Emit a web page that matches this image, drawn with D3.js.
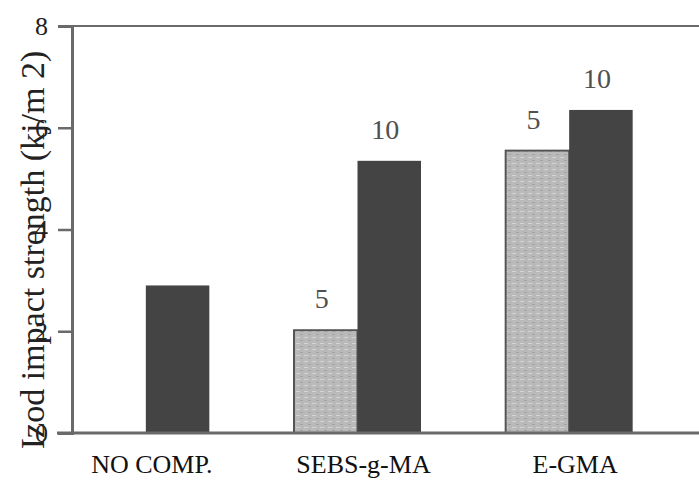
<!DOCTYPE html>
<html>
<head>
<meta charset="utf-8">
<script src="https://cdn.jsdelivr.net/npm/d3@7"></script>
<style>
  body { margin: 0; background: #fff; }
  svg { display: block; }
</style>
</head>
<body>
<div class="chart"></div>
<script>
// data
var categories = ["NO COMP.", "SEBS-g-MA", "E-GMA"];
var loadings = ["5", "10"];
// null = no bar for that loading
var values5 = [null, 2.02, 5.55];
var values10 = [2.9, 5.35, 6.35];
var yTicks = [0, 2, 4, 6, 8];
var yTitle = "Izod impact strength (kj/m 2)";

var width = 699, height = 485;
var yBottom = 433, yTop = 26, axisX = 72;

var svg = d3.select("div.chart").append("svg")
  .attr("width", width)
  .attr("height", height);

// light bar texture
var defs = svg.append("defs");
var pat = defs.append("pattern")
  .attr("id", "grain")
  .attr("patternUnits", "userSpaceOnUse")
  .attr("width", 8).attr("height", 6);
pat.append("rect").attr("width", 8).attr("height", 6).attr("fill", "#b9b9b9");
pat.append("rect").attr("x", 0).attr("y", 1).attr("width", 4).attr("height", 1).attr("fill", "#d4d4d4");
pat.append("rect").attr("x", 4).attr("y", 4).attr("width", 3).attr("height", 1).attr("fill", "#a3a3a3");

var y = d3.scaleLinear().domain([0, 8]).range([yBottom, yTop]);

var x = d3.scaleBand()
  .domain(categories)
  .range([40, 675])
  .paddingInner(0.4)
  .paddingOuter(0.2);

var xSub = d3.scaleBand()
  .domain(loadings)
  .range([0, x.bandwidth()]);

// bars
var rows = [];
for (var i = 0; i < categories.length; i++) {
  if (values5[i] != null) rows.push({cat: categories[i], load: "5", v: values5[i], label: i > 0});
  if (values10[i] != null) rows.push({cat: categories[i], load: "10", v: values10[i], label: i > 0});
}

svg.selectAll("rect.bar")
  .data(rows)
  .enter().append("rect")
  .attr("class", "bar")
  .attr("x", function(d) { return x(d.cat) + xSub(d.load); })
  .attr("y", function(d) { return y(d.v); })
  .attr("width", xSub.bandwidth())
  .attr("height", function(d) { return yBottom - y(d.v); })
  .attr("fill", function(d) { return d.load === "5" ? "url(#grain)" : "#444444"; })
  .attr("stroke", function(d) { return d.load === "5" ? "#555" : "none"; })
  .attr("stroke-width", 2);

// loading labels above bars
svg.selectAll("text.lab")
  .data(rows.filter(function(d) { return d.label; }))
  .enter().append("text")
  .attr("class", "lab")
  .attr("x", function(d) { return x(d.cat) + xSub(d.load) + xSub.bandwidth() / 2 - 4; })
  .attr("y", function(d) { return y(d.v) - 22; })
  .attr("text-anchor", "middle")
  .style("font-family", "'Liberation Serif', 'Times New Roman', serif")
  .style("font-size", "28px")
  .style("fill", "#505050")
  .text(function(d) { return d.load; });

// frame: top line and baseline
svg.append("line")
  .attr("x1", axisX - 2).attr("x2", width)
  .attr("y1", y(8)).attr("y2", y(8))
  .attr("stroke", "#6a6a6a").attr("stroke-width", 2);
svg.append("line")
  .attr("x1", axisX - 15).attr("x2", width)
  .attr("y1", yBottom).attr("y2", yBottom)
  .attr("stroke", "#6a6a6a").attr("stroke-width", 3);

// y axis
var yAxis = d3.axisLeft(y)
  .tickValues(yTicks)
  .tickSize(14)
  .tickPadding(10)
  .tickFormat(d3.format("d"));

var gy = svg.append("g")
  .attr("transform", "translate(" + axisX + ",0)")
  .call(yAxis);
gy.select(".domain").attr("stroke", "#6a6a6a").attr("stroke-width", 3);
gy.selectAll(".tick line").attr("stroke", "#6a6a6a").attr("stroke-width", 2.5);
gy.selectAll(".tick text")
  .style("font-family", "'Liberation Serif', 'Times New Roman', serif")
  .style("font-size", "26px")
  .style("fill", "#222");

// category labels
svg.selectAll("text.cat")
  .data(categories)
  .enter().append("text")
  .attr("class", "cat")
  .attr("x", function(d) { return x(d) + x.bandwidth() / 2 + 6; })
  .attr("y", 473)
  .attr("text-anchor", "middle")
  .style("font-family", "'Liberation Serif', 'Times New Roman', serif")
  .style("font-size", "26px")
  .style("fill", "#111")
  .text(function(d) { return d; });

// y title
svg.append("text")
  .attr("transform", "translate(44," + 250 + ") rotate(-90)")
  .attr("text-anchor", "middle")
  .style("font-family", "'Liberation Serif', 'Times New Roman', serif")
  .style("font-size", "34px")
  .style("fill", "#222")
  .text(yTitle);
</script>
</body>
</html>
